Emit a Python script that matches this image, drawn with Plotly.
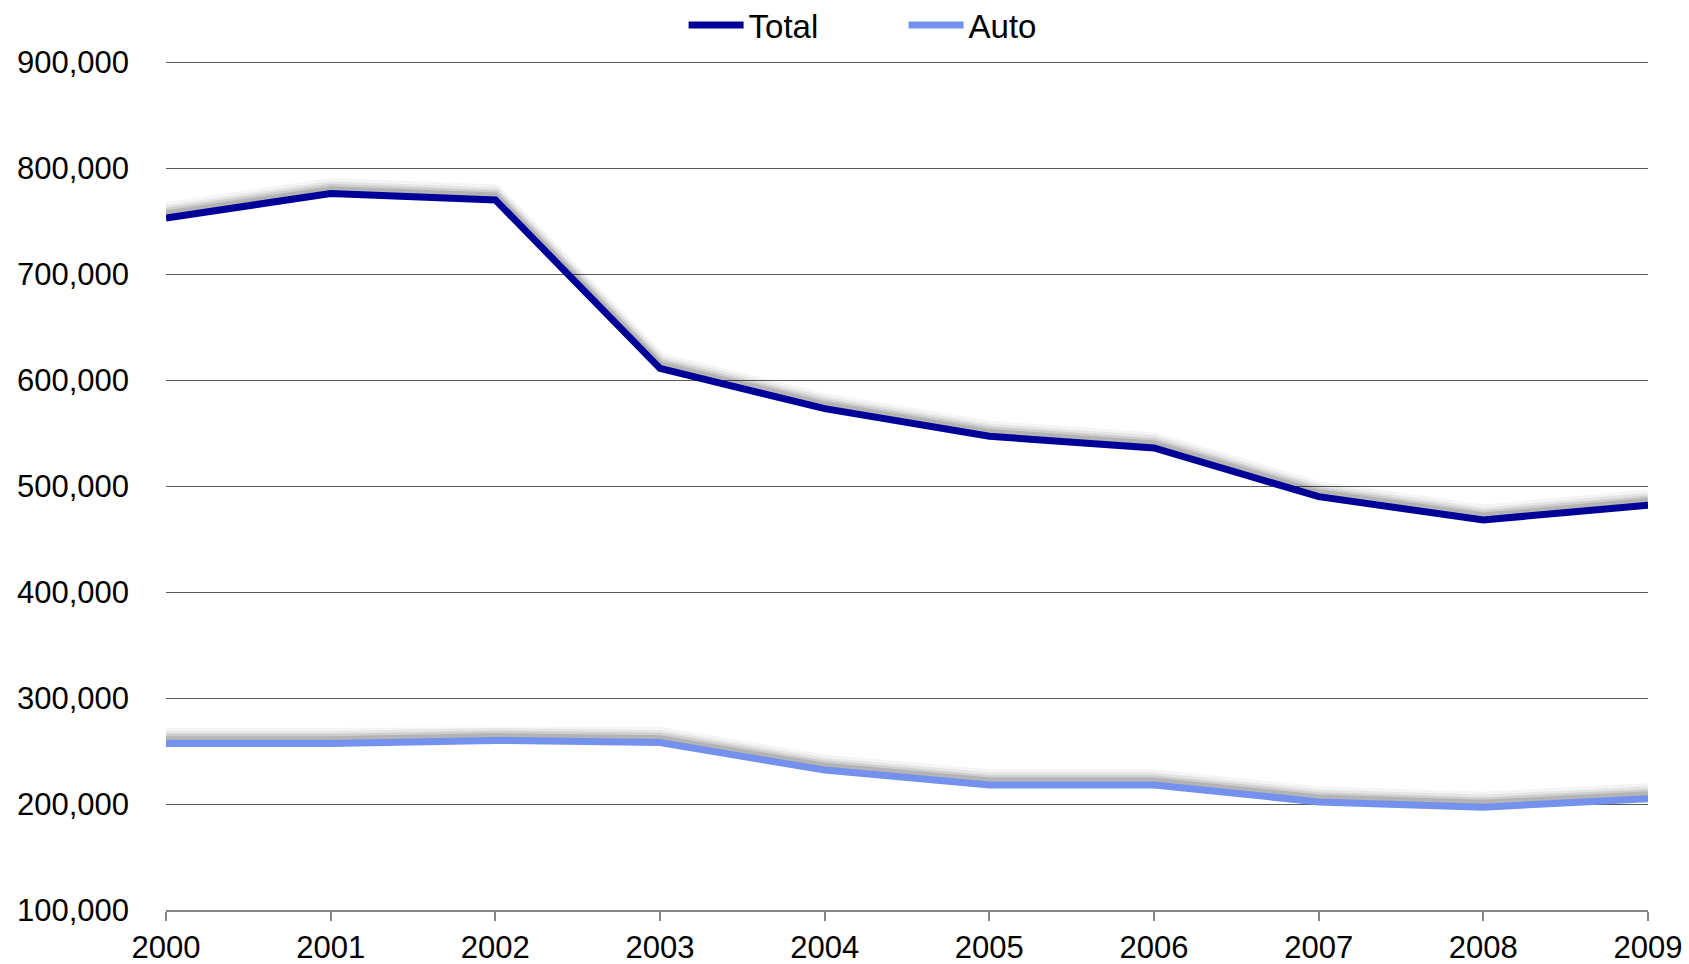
import plotly.graph_objects as go

years = [2000, 2001, 2002, 2003, 2004, 2005, 2006, 2007, 2008, 2009]
total = [753000, 776000, 770000, 611000, 573000, 547000, 536000, 490000, 468000, 482000]
auto = [257000, 257000, 260000, 258000, 232000, 218000, 218000, 202000, 197000, 205000]

y_ticks = [100000, 200000, 300000, 400000, 500000, 600000, 700000, 800000, 900000]
y_tick_text = ["100,000", "200,000", "300,000", "400,000", "500,000",
               "600,000", "700,000", "800,000", "900,000"]

TOTAL_COLOR = "#000099"
AUTO_COLOR = "#7591EE"
FONT = "Liberation Sans, Arial, sans-serif"

# soft drop shadow: translucent gray strokes lifted above each line, fading upward
shadow_layers = [(8000, 14, 0.04), (6000, 12, 0.06), (4500, 10, 0.09), (3200, 8, 0.12)]

fig = go.Figure()
for series in (total, auto):
    for lift, width, alpha in shadow_layers:
        fig.add_trace(go.Scatter(
            x=years, y=[v + lift for v in series], mode="lines",
            line=dict(color="black", width=width),
            opacity=alpha, showlegend=False, hoverinfo="skip",
        ))

fig.add_trace(go.Scatter(x=years, y=total, mode="lines", name="Total",
                         line=dict(color=TOTAL_COLOR, width=7)))
fig.add_trace(go.Scatter(x=years, y=auto, mode="lines", name="Auto",
                         line=dict(color=AUTO_COLOR, width=7)))

fig.update_layout(
    width=1689, height=964,
    margin=dict(l=166, r=41, t=60, b=54, autoexpand=False),
    paper_bgcolor="white", plot_bgcolor="white",
    font=dict(family=FONT, size=31, color="black"),
    legend=dict(orientation="h", x=0.4977, xanchor="center",
                y=0.974, yanchor="middle", yref="container",
                font=dict(size=33), itemwidth=55, entrywidth=150,
                traceorder="normal", bgcolor="rgba(0,0,0,0)"),
    xaxis=dict(
        range=[2000, 2009], tickmode="array", tickvals=years,
        ticktext=[str(y) for y in years], automargin=False,
        showgrid=False, zeroline=False,
        showline=True, linecolor="#868686", linewidth=2,
        ticks="outside", ticklen=9, tickwidth=2, tickcolor="#868686",
        tickfont=dict(size=31),
    ),
    yaxis=dict(
        range=[100000, 902000], tickmode="array", tickvals=y_ticks,
        ticktext=y_tick_text, automargin=False,
        showgrid=True, gridcolor="#5a5a5a", gridwidth=1,
        zeroline=False, showline=False, ticks="",
        ticklabelstandoff=36, tickfont=dict(size=31),
    ),
)

fig.write_html("out.html")
